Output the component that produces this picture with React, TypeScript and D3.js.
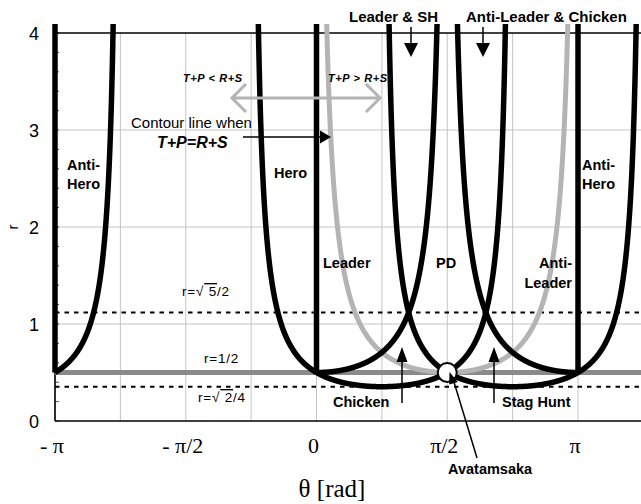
import React from "react";
import * as d3 from "d3";

const PI = Math.PI;
// Boundary lines a*x + b*y = c in Cartesian (x = r cos θ, y = r sin θ), drawn over θ ranges
const boundaryA = [1, -1, -1, 1, -1];
const boundaryB = [1, 1, 1, 0, 0];
const boundaryC = [0.5, 0.5, 0.5, 0.5, 0.5];
const boundaryFrom = [-PI / 4, PI / 4, -PI, 0, PI / 2];
const boundaryTo = [(3 * PI) / 4, (5 * PI) / 4, (-3 * PI) / 4, PI / 2, PI];
// Radial boundary rays (θ constant, r >= 1/2)
const rayAngles = [-PI, 0, PI];
// Contour T+P=R+S : y = 1/2
const contourA = 0, contourB = 1, contourC = 0.5;
const contourFrom = 0, contourTo = PI;
// Reference radii
const circleR = 0.5;
const dashedRadii = [Math.sqrt(5) / 2, Math.sqrt(2) / 4];
// Ticks
const xTickValues = [-PI, -PI / 2, 0, PI / 2, PI];
const xTickLabels = ["- π", "- π/2", "0", "π/2", "π"];
const xGridValues = [-PI, -0.75 * PI, -PI / 2, -PI / 4, 0, PI / 4, PI / 2, 0.75 * PI, PI];
const yTickValues = [0, 1, 2, 3, 4];

const W = 641, H = 504;
const x = d3.scaleLinear().domain([-PI, 1.25 * PI]).range([55, 55 + 2.25 * 261.5]);
const y = d3.scaleLinear().domain([0, 4]).range([421, 33]);
const RMAX = 7;

function linePts(a: number, b: number, c: number, from: number, to: number): [number, number][] {
  const pts: [number, number][] = [];
  const n = 1500;
  for (let i = 0; i <= n; i++) {
    const t = from + ((to - from) * i) / n;
    const den = a * Math.cos(t) + b * Math.sin(t);
    if (den <= 1e-6) continue;
    const r = c / den;
    if (r > RMAX) continue;
    pts.push([t, r]);
  }
  return pts;
}

const gen = d3.line<[number, number]>().x((d) => x(d[0])).y((d) => y(d[1]));

const sans = "'Liberation Sans', Arial, sans-serif";
const serif = "'Liberation Serif', 'Times New Roman', serif";

export default function App() {
  const minorTicks = d3.range(0, 4.0001, 0.2);
  const rightEdge = W;
  return (
    <svg width={W} height={H} style={{ position: "absolute", left: 0, top: 0, background: "#fff" }}>
      <defs>
        <clipPath id="plot">
          <rect x={45} y={24} width={610} height={397} />
        </clipPath>
      </defs>
      {/* grid */}
      {xGridValues.map((v, i) => (
        <line key={"gx" + i} x1={x(v)} x2={x(v)} y1={y(0)} y2={y(4)} stroke="#c4c4c4" strokeWidth={1} />
      ))}
      {[1, 2, 3].map((v) => (
        <line key={"gy" + v} x1={x(-PI)} x2={rightEdge} y1={y(v)} y2={y(v)} stroke="#c4c4c4" strokeWidth={1} />
      ))}
      {/* minor ticks */}
      {minorTicks.map((v, i) => (
        <line key={"mt" + i} x1={x(-PI)} x2={x(-PI) + 4} y1={y(v)} y2={y(v)} stroke="#555" strokeWidth={1} />
      ))}
      {/* frame */}
      <line x1={x(-PI)} x2={rightEdge} y1={y(0)} y2={y(0)} stroke="#000" strokeWidth={1.6} />
      <line x1={x(-PI)} x2={rightEdge} y1={y(4)} y2={y(4)} stroke="#000" strokeWidth={1.6} />
      <line x1={x(-PI)} x2={x(-PI)} y1={y(0)} y2={y(4)} stroke="#000" strokeWidth={1.6} />
      {/* dashed radii */}
      {dashedRadii.map((r, i) => (
        <line key={"dr" + i} x1={x(-PI)} x2={rightEdge} y1={y(r)} y2={y(r)} stroke="#000" strokeWidth={2} strokeDasharray="4.5 5" />
      ))}
      {/* circle r = 1/2 */}
      <line x1={x(-PI)} x2={rightEdge} y1={y(circleR)} y2={y(circleR)} stroke="#8a8a8a" strokeWidth={5} />
      <g clipPath="url(#plot)" fill="none">
        {/* contour T+P=R+S */}
        <path d={gen(linePts(contourA, contourB, contourC, contourFrom, contourTo)) || ""} stroke="#b4b4b4" strokeWidth={5} />
        {boundaryA.map((a, i) => (
          <path
            key={"b" + i}
            d={gen(linePts(a, boundaryB[i], boundaryC[i], boundaryFrom[i], boundaryTo[i])) || ""}
            stroke="#000"
            strokeWidth={5.5}
            strokeLinejoin="round"
          />
        ))}
        {rayAngles.map((t, i) => (
          <path key={"ray" + i} d={gen([[t, circleR], [t, RMAX]]) || ""} stroke="#000" strokeWidth={5.5} />
        ))}
      </g>
      {/* Avatamsaka circle */}
      <circle cx={x(PI / 2)} cy={y(circleR)} r={9.5} fill="#fff" stroke="#000" strokeWidth={2} />
      {/* y tick labels */}
      {yTickValues.map((v) => (
        <text key={"yt" + v} x={39} y={y(v) + 6.5} textAnchor="end" fontFamily={sans} fontSize={18}>
          {v}
        </text>
      ))}
      <text transform={`translate(18,${y(2)}) rotate(-90)`} textAnchor="middle" fontFamily={sans} fontSize={15}>
        r
      </text>
      {/* x tick labels */}
      {xTickValues.map((v, i) => (
        <text key={"xt" + i} x={x(v) - 3} y={453} textAnchor="middle" fontFamily={serif} fontSize={22}>
          {xTickLabels[i]}
        </text>
      ))}
      <text x={332} y={497} textAnchor="middle" fontFamily={serif} fontSize={25}>
        θ [rad]
      </text>
      {/* region labels */}
      <g fontFamily={sans} fontWeight="bold" fontSize={14.5}>
        <text x={67} y={170}>Anti-</text>
        <text x={67} y={189}>Hero</text>
        <text x={274} y={178}>Hero</text>
        <text x={582} y={170}>Anti-</text>
        <text x={582} y={189}>Hero</text>
        <text x={323} y={268}>Leader</text>
        <text x={436} y={268}>PD</text>
        <text x={572} y={268} textAnchor="end">Anti-</text>
        <text x={572} y={288} textAnchor="end">Leader</text>
        <text x={333} y={407}>Chicken</text>
        <text x={502} y={407}>Stag Hunt</text>
        <text x={448} y={474}>Avatamsaka</text>
      </g>
      <g fontFamily={sans} fontWeight="bold" fontSize={15}>
        <text x={349} y={22}>Leader &amp; SH</text>
        <text x={466} y={22}>Anti-Leader &amp; Chicken</text>
      </g>
      {/* down arrows */}
      {[411, 483].map((ax) => (
        <g key={"da" + ax}>
          <line x1={ax} x2={ax} y1={27} y2={45} stroke="#000" strokeWidth={1.5} />
          <path d={`M${ax - 7},43 L${ax + 7},43 L${ax},57 Z`} fill="#000" />
        </g>
      ))}
      {/* up arrows */}
      {[402, 494].map((ax) => (
        <g key={"ua" + ax}>
          <line x1={ax} x2={ax} y1={403} y2={360} stroke="#000" strokeWidth={1.5} />
          <path d={`M${ax - 5.5},362 L${ax + 5.5},362 L${ax},347 Z`} fill="#000" />
        </g>
      ))}
      {/* Avatamsaka pointer */}
      <line x1={477} y1={458} x2={454} y2={382} stroke="#000" strokeWidth={1.5} />
      <path d="M449.5,372 L449.2,384.5 L457.8,382 Z" fill="#000" />
      {/* inequality labels */}
      <g fontFamily={sans} fontWeight="bold" fontStyle="italic" fontSize={11} letterSpacing={0.6}>
        <text x={183} y={82}>T+P &lt; R+S</text>
        <text x={328} y={82}>T+P &gt; R+S</text>
      </g>
      {/* gray double arrow */}
      <g stroke="#b4b4b4" strokeWidth={3} fill="none">
        <line x1={233} x2={378} y1={98} y2={98} />
        <path d="M246,84 L232,98 L246,112" />
        <path d="M366,84 L380,98 L366,112" />
      </g>
      {/* contour label */}
      <text x={131} y={128} fontFamily={sans} fontSize={15}>Contour line when</text>
      <text x={157} y={148} fontFamily={sans} fontSize={16} fontWeight="bold" fontStyle="italic">T+P=R+S</text>
      <line x1={243} x2={322} y1={137} y2={137} stroke="#000" strokeWidth={1.5} />
      <path d="M320,130.5 L331,137 L320,143.5 Z" fill="#000" />
      {/* radius labels */}
      <g fontFamily={sans} fontSize={13.5} letterSpacing={0.8}>
        <text x={182} y={296}>
          r=√<tspan textDecoration="overline">{" 5"}</tspan>/2
        </text>
        <text x={204} y={363}>r=1/2</text>
        <text x={198} y={402}>
          r=√<tspan textDecoration="overline">{" 2"}</tspan>/4
        </text>
      </g>
    </svg>
  );
}
